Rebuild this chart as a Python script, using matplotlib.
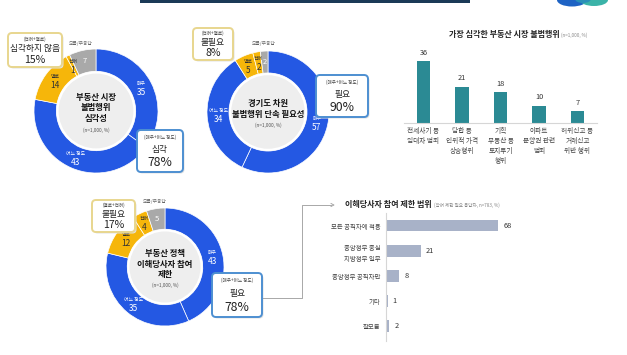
import numpy as np
import matplotlib.pyplot as plt
from matplotlib.patches import FancyBboxPatch, Circle, Ellipse

plt.rcParams['font.family'] = ['Noto Sans CJK KR', 'DejaVu Sans']

W, H = 627, 355

# ---- data ---------------------------------------------------------------
seg_names = ['매우', '어느 정도', '별로', '전혀', '모름/무응답']
seg_colors = ['#2458e3', '#2458e3', '#f6b60a', '#f6b60a', '#a9a9a9']
seg_text = ['white', 'white', '#333333', '#333333', 'white']

severity_vals = [35, 43, 14, 1, 7]
crackdown_vals = [57, 34, 5, 2, 2]
restrict_vals = [43, 35, 12, 4, 5]

severity_title = '부동산 시장\n불법행위\n심각성'
crackdown_title = '경기도 차원\n불법행위 단속 필요성'
restrict_title = '부동산 정책\n이해당사자 참여\n제한'
n_text = '(n=1,000, %)'

severity_callouts = [('(전혀+별로)', '심각하지 않음', '15%'), ('(매우+어느 정도)', '심각', '78%')]
crackdown_callouts = [('(전혀+별로)', '불필요', '8%'), ('(매우+어느 정도)', '필요', '90%')]
restrict_callouts = [('(별로+전혀)', '불필요', '17%'), ('(매우+어느 정도)', '필요', '78%')]

illegal_labels = ['전세사기 등\n임대차 범죄', '담합 등\n인위적 가격\n상승행위',
                  '기획\n부동산 등\n토지투기\n행위', '아파트\n분양권 관련\n범죄',
                  '허위신고 등\n거래신고\n위반 행위']
illegal_vals = [36, 21, 18, 10, 7]
illegal_title = '가장 심각한 부동산 시장 불법행위'
illegal_sub = '(n=1,000, %)'

scope_labels = ['모든 공직자에 적용', '중앙정부 중심\n지방정부 일부', '중앙정부 공직자만', '기타', '잘모름']
scope_vals = [68, 21, 8, 1, 2]
scope_title = '이해당사자 참여 제한 범위'
scope_sub = '(참여 제한 필요 응답자, n=783, %)'

fig = plt.figure(figsize=(W / 100, H / 100), dpi=100, facecolor='white')


def px_axes(x0, y0, x1, y1):
    # axes from pixel box (y measured from top)
    return fig.add_axes([x0 / W, 1 - y1 / H, (x1 - x0) / W, (y1 - y0) / H])


def donut(cx, cy, r, vals, title):
    ax = px_axes(cx - r, cy - r, cx + r, cy + r)
    ax.pie(vals, colors=seg_colors, startangle=90, counterclock=False, radius=1,
           wedgeprops=dict(width=0.36, edgecolor='white', linewidth=0.5))
    ax.add_patch(Circle((0, 0), 0.62, fc='#eeeeee', ec='white', lw=1.5))
    ax.set_xlim(-1, 1)
    ax.set_ylim(-1, 1)
    ax.axis('off')
    total = sum(vals)
    cum = 0
    for name, v, tc in zip(seg_names, vals, seg_text):
        mid = (cum + v / 2) / total * 2 * np.pi
        cum += v
        x, y = 0.82 * np.sin(mid), 0.82 * np.cos(mid)
        if name == '모름/무응답':
            ax.text(x, y, str(v), ha='center', va='center', fontsize=5.5, color=tc)
            ax.text(1.12 * np.sin(mid), 1.12 * np.cos(mid), name, ha='center', va='center',
                    fontsize=3.4, color='#666666')
        else:
            ax.text(x, y + 0.075, name, ha='center', va='center', fontsize=3.5, color=tc)
            ax.text(x, y - 0.075, str(v), ha='center', va='center', fontsize=6, color=tc)
    nl = title.count('\n') + 1
    ax.text(0, 0.05, title, ha='center', va='center', fontsize=6.0, weight='bold',
            color='#111111', linespacing=1.2)
    ax.text(0, 0.05 - nl * 0.085 - 0.1, n_text, ha='center', va='center', fontsize=3.4,
            color='#555555')
    return ax


donut(96, 111, 62, severity_vals, severity_title)
donut(268, 112, 61, crackdown_vals, crackdown_title)
donut(165, 267, 59, restrict_vals, restrict_title)

# ---- vertical bar chart ---------------------------------------------------
ax1 = px_axes(404.25, 54, 596.75, 123)
xs = np.arange(len(illegal_vals))
ax1.bar(xs, illegal_vals, width=0.35, color='#2b8a94')
for x, v in zip(xs, illegal_vals):
    ax1.text(x, v + 2.5, str(v), ha='center', va='bottom', fontsize=5.3, color='#333333')
ax1.set_xlim(-0.5, 4.5)
ax1.set_ylim(0, 40)
ax1.set_xticks(xs)
ax1.set_xticklabels(illegal_labels, fontsize=4.8, color='#444444', linespacing=1.35, va='top')
ax1.tick_params(axis='x', length=0, pad=3)
ax1.set_yticks([])
for s in ['top', 'right', 'left']:
    ax1.spines[s].set_visible(False)
ax1.spines['bottom'].set_color('#d6d6d6')
ax1.spines['bottom'].set_linewidth(0.8)
ax1.patch.set_alpha(0)

# ---- horizontal bar chart -------------------------------------------------
ax2 = px_axes(386, 213, 518, 341)
ys = np.arange(len(scope_vals))
ax2.barh(ys, scope_vals, height=0.47, color='#a8b2c8')
for y, v in zip(ys, scope_vals):
    ax2.text(v + 3, y, str(v), ha='left', va='center', fontsize=5.3, color='#333333')
ax2.set_ylim(4.6, -0.5)
ax2.set_xlim(0, 80)
ax2.set_yticks(ys)
ax2.set_yticklabels(scope_labels, fontsize=4.6, color='#444444', linespacing=1.6)
ax2.tick_params(axis='y', length=0, pad=4)
ax2.set_xticks([])
for s in ['top', 'right', 'bottom']:
    ax2.spines[s].set_visible(False)
ax2.spines['left'].set_color('#d6d6d6')
ax2.spines['left'].set_linewidth(0.8)
ax2.patch.set_alpha(0)

# ---- overlay: titles, callouts, decoration ------------------------------------
ov = fig.add_axes([0, 0, 1, 1], zorder=10)
ov.set_xlim(0, W)
ov.set_ylim(H, 0)
ov.axis('off')
ov.patch.set_alpha(0)

# top header bar and logo
ov.fill_between([140, 470], 0, 3, color='#1b3a57', lw=0)
ov.add_patch(Ellipse((572, 0), 30, 13, fc='#1e63c4', ec='none'))
ov.add_patch(Ellipse((594, 0), 28, 12, fc='#3bb3a8', ec='none'))
ov.add_patch(Ellipse((583, -1), 16, 8, fc='#2a8fb8', ec='none'))

ov.text(560, 35, illegal_title, ha='right', va='center', fontsize=5.8, weight='bold', color='#222222')
ov.text(561, 35, illegal_sub, ha='left', va='center', fontsize=3.3, color='#888888')
ov.text(432, 205, scope_title, ha='right', va='center', fontsize=5.8, weight='bold', color='#222222')
ov.text(434, 205, scope_sub, ha='left', va='center', fontsize=3.3, color='#888888')

# connector from donut 3 callout to the scope chart
ov.plot([262, 302, 302, 331], [298, 298, 205, 205], color='#9a9a9a', lw=0.6)
ov.plot([331, 334, 331], [203.5, 205, 206.5], color='#9a9a9a', lw=0.6)


def callout(x0, y0, x1, y1, texts, edge, pct_size):
    sub, main, pct = texts
    ov.add_patch(FancyBboxPatch((x0 + 1.5, y0 + 1.5), x1 - x0, y1 - y0,
                                boxstyle='round,pad=0,rounding_size=4',
                                fc='#e2e2e2', ec='none', zorder=1))
    ov.add_patch(FancyBboxPatch((x0, y0), x1 - x0, y1 - y0,
                                boxstyle='round,pad=0,rounding_size=4',
                                fc='white', ec=edge, lw=1.4, zorder=2))
    h = y1 - y0
    xc = (x0 + x1) / 2
    ov.text(xc, y0 + h * 0.17, sub, ha='center', va='center', fontsize=3.3, color='#444444', zorder=3)
    ov.text(xc, y0 + h * 0.46, main, ha='center', va='center', fontsize=6.3, color='#222222', zorder=3)
    ov.text(xc, y0 + h * 0.78, pct, ha='center', va='center', fontsize=pct_size, color='#222222', zorder=3)


yellow_edge = '#e8d68e'
blue_edge = '#4d8fd1'
callout(8, 33, 62, 67, severity_callouts[0], yellow_edge, 7.6)
callout(137, 130, 183, 172, severity_callouts[1], blue_edge, 8.8)
callout(193, 28, 233, 60, crackdown_callouts[0], yellow_edge, 7.6)
callout(316, 75, 368, 117, crackdown_callouts[1], blue_edge, 8.8)
callout(92, 200, 135, 232, restrict_callouts[0], yellow_edge, 7.6)
callout(212, 273, 262, 317, restrict_callouts[1], blue_edge, 8.8)

fig.savefig('out.png', dpi=100, facecolor='white')
